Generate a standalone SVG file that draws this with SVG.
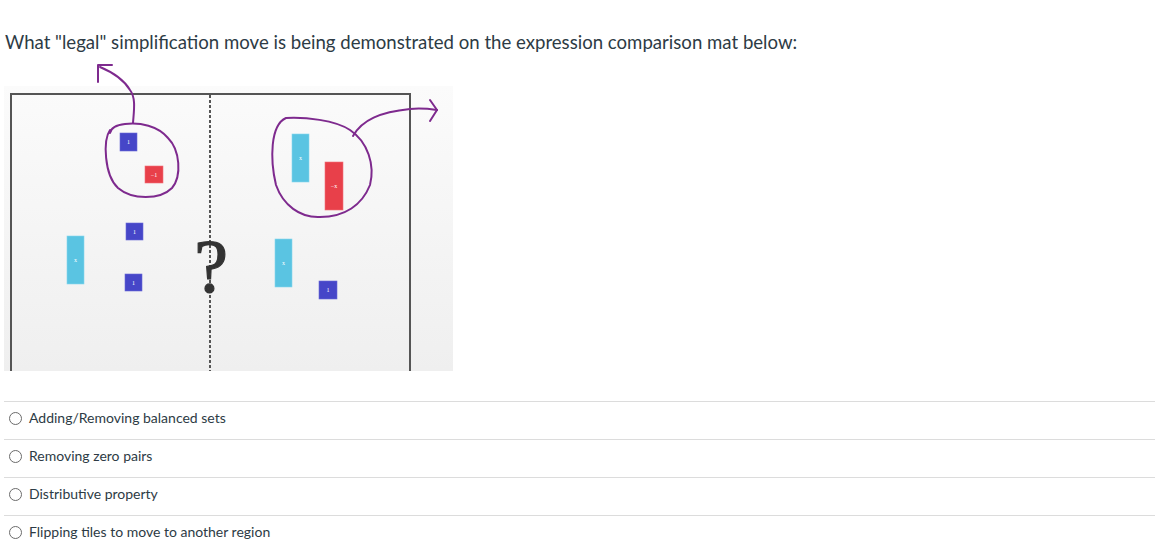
<svg xmlns="http://www.w3.org/2000/svg" width="1155" height="558" viewBox="0 0 1155 558">
<defs>
<linearGradient id="bg" x1="0" y1="0" x2="0" y2="1">
<stop offset="0" stop-color="#fbfbfb"/>
<stop offset="1" stop-color="#efefef"/>
</linearGradient>
<style>
.q{font-family:Lato,"Liberation Sans",sans-serif;font-size:18.6px;fill:#2d3b45}
.opt{font-family:Lato,"Liberation Sans",sans-serif;font-size:14px;fill:#2d3b45}
.sep{stroke:#dcdcdc;stroke-width:1}
.radio{fill:#fff;stroke:#6b6b6b;stroke-width:1}
.one{fill:#4646c8;stroke:#6a6ad8;stroke-width:0.6}
.neg{fill:#e8404a;stroke:#f07078;stroke-width:0.6}
.x{fill:#5ac4e2;stroke:#86d8ee;stroke-width:0.6}
.lbl{font-family:"Liberation Serif",serif;font-size:6px;fill:#fff;text-anchor:middle}
.ink{fill:none;stroke:#7e2a8e;stroke-width:2;stroke-linecap:round;stroke-linejoin:round}
.frame{fill:none;stroke:#555;stroke-width:2}
</style>
</defs>
<rect width="1155" height="558" fill="#fff"/>
<text class="q" x="5" y="49">What "legal" simplification move is being demonstrated on the expression comparison mat below:</text>

<g id="mat">
<rect x="4" y="86" width="449" height="285" fill="url(#bg)"/>
<path class="frame" d="M11,371 V94 H410 V371"/>
<line x1="210" y1="95" x2="210" y2="371" stroke="#555" stroke-width="2" stroke-dasharray="3,2"/>
<text x="211" y="292" font-family="Liberation Serif,serif" font-size="76" fill="#333" stroke="#333" stroke-width="1.2" text-anchor="middle">?</text>
</g>

<g id="tile-one-a"><rect class="one" x="120" y="133" width="17" height="18"/><text class="lbl" x="128.5" y="144">1</text></g>
<g id="tile-neg-one"><rect class="neg" x="145" y="166" width="18" height="17"/><text class="lbl" x="154" y="177">−1</text></g>
<g id="tile-one-b"><rect class="one" x="126" y="223" width="17" height="17"/><text class="lbl" x="134.5" y="234">1</text></g>
<g id="tile-one-c"><rect class="one" x="125" y="274" width="17" height="17"/><text class="lbl" x="133.5" y="285">1</text></g>
<g id="tile-x-left"><rect class="x" x="67" y="236" width="17" height="48"/><text class="lbl" x="75.5" y="262">x</text></g>
<g id="tile-x-right-a"><rect class="x" x="292" y="134" width="17" height="48"/><text class="lbl" x="300.5" y="160">x</text></g>
<g id="tile-neg-x"><rect class="neg" x="325" y="162" width="18" height="48"/><text class="lbl" x="334" y="188">−x</text></g>
<g id="tile-x-right-b"><rect class="x" x="275" y="239" width="17" height="48"/><text class="lbl" x="283.5" y="265">x</text></g>
<g id="tile-one-d"><rect class="one" x="319" y="281" width="18" height="18"/><text class="lbl" x="328" y="292">1</text></g>

<g id="annotations">
<path class="ink" d="M110,130 C103,140 104,175 118,188 C132,200 160,200 172,188 C182,176 180,150 168,138 C158,126 140,122 125,124 C116,125 111,128 110,133"/>
<path class="ink" d="M133,123 C134,110 136,98 130,90 C124,80 112,72 100,67"/>
<path class="ink" d="M98,82 V65 H112"/>
<path class="ink" d="M286,118 C270,125 270,160 276,185 C283,205 300,218 320,217 C345,217 362,205 370,185 C375,165 368,142 350,130 C335,120 305,117 286,118 Z"/>
<path class="ink" d="M353,136 C362,120 380,112 410,109 C420,108 430,109 437,110"/>
<path class="ink" d="M430,100 L437,110 L430,121"/>
</g>

<g id="options">
<line class="sep" x1="4" y1="401.5" x2="1155" y2="401.5"/>
<line class="sep" x1="4" y1="439.5" x2="1155" y2="439.5"/>
<line class="sep" x1="4" y1="477.5" x2="1155" y2="477.5"/>
<line class="sep" x1="4" y1="515.5" x2="1155" y2="515.5"/>
<circle class="radio" cx="15.5" cy="418.5" r="6"/>
<circle class="radio" cx="15.5" cy="456.5" r="6"/>
<circle class="radio" cx="15.5" cy="494.5" r="6"/>
<circle class="radio" cx="15.5" cy="532.5" r="6"/>
<text class="opt" x="29" y="423">Adding/Removing balanced sets</text>
<text class="opt" x="29" y="461">Removing zero pairs</text>
<text class="opt" x="29" y="499">Distributive property</text>
<text class="opt" x="29" y="537">Flipping tiles to move to another region</text>
</g>
</svg>
